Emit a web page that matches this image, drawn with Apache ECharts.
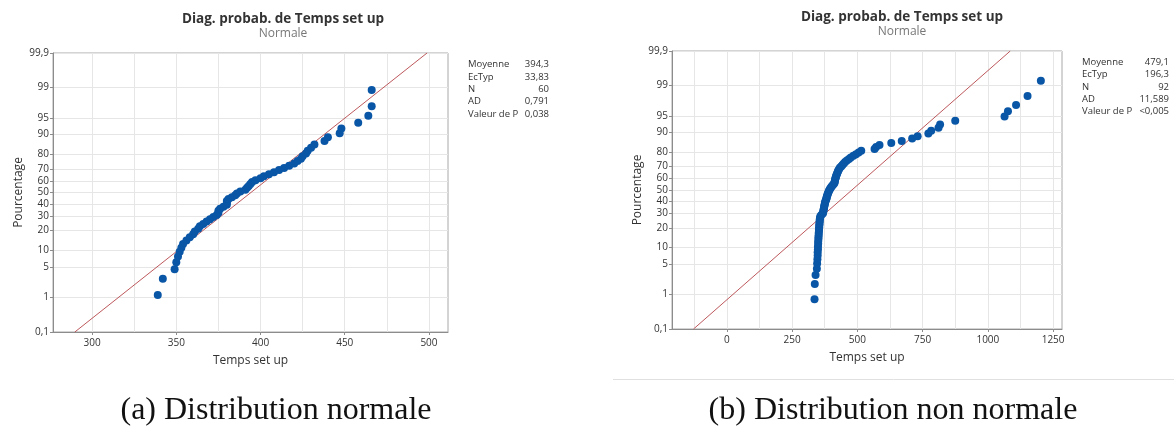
<!DOCTYPE html>
<html lang="fr">
<head>
<meta charset="utf-8" />
<title>Diag. probab. de Temps set up</title>
<script src="https://cdn.jsdelivr.net/npm/echarts@6/dist/echarts.min.js"></script>
<style>
  body { margin: 0; background: #fff; }
  #chart { width: 1174px; height: 432px; }
</style>
</head>
<body>
<div id="chart"></div>
<script>
var tempsNormal = [339, 342, 349, 350, 351, 352, 353, 354, 356, 358,
  360, 361, 363, 364, 366, 368, 370, 372, 374, 375,
  375, 376, 378, 380, 380, 380, 381, 383, 385, 386,
  388, 391, 392, 393, 394, 395, 397, 400, 402, 405,
  408, 411, 414, 417, 420, 422, 424, 425, 427, 428,
  430, 432, 438, 440, 447, 448, 458, 464, 466, 466];

var tempsNonNormal = [336, 337, 340, 345, 346, 347, 348, 348, 349, 349,
  350, 350, 351, 351, 352, 352, 353, 353, 354, 354,
  355, 355, 356, 356, 357, 358, 362, 368, 369, 370,
  371, 372, 373, 374, 375, 376, 377, 379, 381, 382,
  383, 385, 386, 388, 390, 392, 394, 397, 400, 404,
  408, 412, 413, 414, 415, 416, 418, 419, 421, 423,
  425, 427, 430, 433, 438, 443, 448, 453, 460, 468,
  475, 485, 495, 505, 515, 566, 572, 585, 630, 670,
  710, 731, 772, 783, 811, 817, 875, 1064, 1077, 1108,
  1152, 1203];

var moyennes = [394.3, 479.1];
var ecarts = [33.83, 196.3];

var statLabels = ['Moyenne', 'EcTyp', 'N', 'AD', 'Valeur de P'];
var statsNormal = ['394,3', '33,83', '60', '0,791', '0,038'];
var statsNonNormal = ['479,1', '196,3', '92', '11,589', '<0,005'];

var pctTicks = [0.1, 1, 5, 10, 20, 30, 40, 50, 60, 70, 80, 90, 95, 99, 99.9];
var pctLabels = ['0,1', '1', '5', '10', '20', '30', '40', '50', '60', '70', '80', '90', '95', '99', '99,9'];

var xLabelsNormal = [300, 350, 400, 450, 500];
var xGridNormal = [300, 325, 350, 375, 400, 425, 450, 475, 500];
var xLabelsNonNormal = [0, 250, 500, 750, 1000, 1250];
var xGridNonNormal = [-125, 0, 125, 250, 375, 500, 625, 750, 875, 1000, 1125, 1250];

var titre = 'Diag. probab. de Temps set up';
var sousTitre = 'Normale';
var captions = ['(a) Distribution normale', '(b) Distribution non normale'];

// quantile de la loi normale (Acklam)
function normInv(p) {
  var a = [-3.969683028665376e+01, 2.209460984245205e+02, -2.759285104469687e+02, 1.383577518672690e+02, -3.066479806614716e+01, 2.506628277459239e+00];
  var b = [-5.447609879822406e+01, 1.615858368580409e+02, -1.556989798598866e+02, 6.680131188771972e+01, -1.328068155288572e+01];
  var c = [-7.784894002430293e-03, -3.223964580411365e-01, -2.400758277161838e+00, -2.549732539343734e+00, 4.374664141464968e+00, 2.938163982698783e+00];
  var d = [7.784695709041462e-03, 3.224671290700398e-01, 2.445134137142996e+00, 3.754408661907416e+00];
  var pl = 0.02425, q, r;
  if (p < pl) {
    q = Math.sqrt(-2 * Math.log(p));
    return (((((c[0]*q+c[1])*q+c[2])*q+c[3])*q+c[4])*q+c[5]) / ((((d[0]*q+d[1])*q+d[2])*q+d[3])*q+1);
  }
  if (p > 1 - pl) {
    q = Math.sqrt(-2 * Math.log(1 - p));
    return -(((((c[0]*q+c[1])*q+c[2])*q+c[3])*q+c[4])*q+c[5]) / ((((d[0]*q+d[1])*q+d[2])*q+d[3])*q+1);
  }
  q = p - 0.5; r = q * q;
  return (((((a[0]*r+a[1])*r+a[2])*r+a[3])*r+a[4])*r+a[5])*q / (((((b[0]*r+b[1])*r+b[2])*r+b[3])*r+b[4])*r+1);
}

var zTicks = pctTicks.map(function (p) { return normInv(p / 100); });
// bornes = premier et dernier repere, pour garder 99,9 sur l'axe
var zMin = zTicks[0], zMax = zTicks[zTicks.length - 1];

function pctFormatter(v) {
  for (var i = 0; i < zTicks.length; i++) {
    if (Math.abs(zTicks[i] - v) < 1e-6) return pctLabels[i];
  }
  return '';
}

// rang median (i - 0,3) / (n + 0,4)
function points(vals) {
  var n = vals.length;
  return vals.map(function (v, i) { return [v, normInv((i + 1 - 0.3) / (n + 0.4))]; });
}
function droite(m, s) {
  return [[m + s * zMin, zMin], [m + s * zMax, zMax]];
}

var fontUI = '"Open Sans", "Noto Sans", sans-serif';
var grids = [
  { left: 53, top: 53, width: 395, height: 279 },
  { left: 672, top: 51, width: 390, height: 278 }
];
var xRanges = [[276.8, 511.3], [-210, 1284]];
var xLabelVals = [xLabelsNormal, xLabelsNonNormal];
var xGridVals = [xGridNormal, xGridNonNormal];

var chart = echarts.init(document.getElementById('chart'));

var xAxes = [], yAxes = [];
for (var g = 0; g < 2; g++) {
  xAxes.push({
    gridIndex: g, type: 'value', position: 'bottom',
    min: xRanges[g][0], max: xRanges[g][1],
    name: 'Temps set up', nameLocation: 'middle', nameGap: 23,
    nameTextStyle: { fontFamily: fontUI, fontSize: 12, color: '#333' },
    axisLine: { show: true, onZero: false, lineStyle: { color: '#8c8c8c' } },
    axisTick: { show: true, length: 3, customValues: xLabelVals[g], lineStyle: { color: '#8c8c8c' } },
    axisLabel: { customValues: xLabelVals[g], formatter: function (v) { return String(v); },
      fontFamily: fontUI, fontSize: 10, color: '#333', margin: 6 },
    splitLine: { show: false }
  });
  xAxes.push({
    gridIndex: g, type: 'value', position: 'top',
    min: xRanges[g][0], max: xRanges[g][1],
    axisLine: { show: false },
    axisTick: { show: false, customValues: xGridVals[g] },
    axisLabel: { show: false },
    splitLine: { show: true, lineStyle: { color: '#e6e6e6', width: 1 } }
  });
  yAxes.push({
    gridIndex: g, type: 'value', min: zMin, max: zMax,
    name: 'Pourcentage', nameLocation: 'middle', nameGap: 28,
    nameTextStyle: { fontFamily: fontUI, fontSize: 12, color: '#333' },
    axisLine: { show: true, onZero: false, lineStyle: { color: '#8c8c8c' } },
    axisTick: { show: true, length: 3, customValues: zTicks, lineStyle: { color: '#8c8c8c' } },
    axisLabel: { customValues: zTicks, formatter: pctFormatter, showMaxLabel: true, showMinLabel: true,
      fontFamily: fontUI, fontSize: 10, color: '#333', margin: 4 },
    splitLine: { show: true, lineStyle: { color: '#e6e6e6', width: 1 } }
  });
}

var series = [];
[tempsNormal, tempsNonNormal].forEach(function (vals, g) {
  series.push({
    type: 'line', xAxisIndex: 2 * g, yAxisIndex: g,
    data: droite(moyennes[g], ecarts[g]),
    symbol: 'none', lineStyle: { color: '#b5454a', width: 0.9 }, z: 2, silent: true
  });
  series.push({
    type: 'scatter', xAxisIndex: 2 * g, yAxisIndex: g,
    data: points(vals), symbolSize: 8,
    itemStyle: { color: '#0a56a6', opacity: 1 }, z: 3
  });
});

var graphics = [];
function statBlock(xl, xr, y0, valeurs) {
  statLabels.forEach(function (lab, k) {
    graphics.push({ type: 'text', x: xl, y: y0 + 12.4 * k,
      style: { text: lab, fontFamily: fontUI, fontSize: 9.5, fill: '#333', textVerticalAlign: 'middle' } });
    graphics.push({ type: 'text', x: xr, y: y0 + 12.4 * k,
      style: { text: valeurs[k], fontFamily: fontUI, fontSize: 9.5, fill: '#333', textAlign: 'right', textVerticalAlign: 'middle' } });
  });
}
statBlock(468, 549, 64.5, statsNormal);
statBlock(1082, 1169, 62, statsNonNormal);

graphics.push({ type: 'line', shape: { x1: 613, y1: 379.5, x2: 1174, y2: 379.5 },
  style: { stroke: '#e0e0e0', lineWidth: 1 } });
graphics.push({ type: 'text', x: 276, y: 411,
  style: { text: captions[0], fontFamily: '"Liberation Serif", serif', fontSize: 32, fill: '#111', textAlign: 'center', textVerticalAlign: 'middle' } });
graphics.push({ type: 'text', x: 893, y: 411,
  style: { text: captions[1], fontFamily: '"Liberation Serif", serif', fontSize: 32, fill: '#111', textAlign: 'center', textVerticalAlign: 'middle' } });

var option = {
  animation: false,
  backgroundColor: '#fff',
  title: [
    { text: titre, subtext: sousTitre, left: 278, top: 7, textAlign: 'center', itemGap: 2,
      textStyle: { fontFamily: fontUI, fontSize: 13.5, fontWeight: 'bold', color: '#333' },
      subtextStyle: { fontFamily: fontUI, fontSize: 12, color: '#777' } },
    { text: titre, subtext: sousTitre, left: 897, top: 5, textAlign: 'center', itemGap: 2,
      textStyle: { fontFamily: fontUI, fontSize: 13.5, fontWeight: 'bold', color: '#333' },
      subtextStyle: { fontFamily: fontUI, fontSize: 12, color: '#777' } }
  ],
  grid: grids.map(function (gr) {
    return { left: gr.left, top: gr.top, width: gr.width, height: gr.height,
      show: true, borderColor: '#a8a8a8', borderWidth: 1, backgroundColor: '#fff' };
  }),
  xAxis: xAxes,
  yAxis: yAxes,
  series: series,
  graphic: graphics
};
chart.setOption(option);
</script>
</body>
</html>
